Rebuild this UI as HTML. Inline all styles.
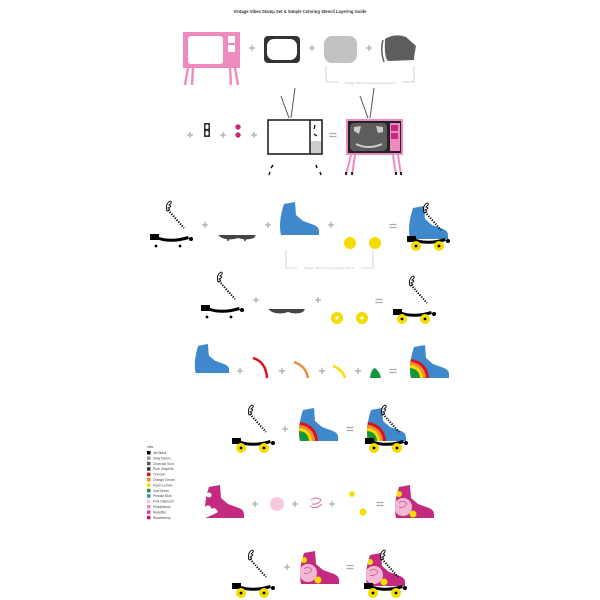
<!DOCTYPE html>
<html><head><style>
html,body{margin:0;padding:0;background:#fff;width:600px;height:600px;overflow:hidden}
svg{display:block}
text{font-family:"Liberation Sans",sans-serif}
</style></head><body>
<svg width="600" height="600" viewBox="0 0 600 600" xmlns="http://www.w3.org/2000/svg">
<defs>
 <path id="boot" d="M6,2 L17,0 L18,13 L25,19 L36,23 Q41,25 41,29 L41,33 L3,33 Q0,20 6,2 Z"/>
 <clipPath id="bc"><use href="#boot"/></clipPath>
 <g id="laces">
  <path d="M18,6 L34,24" stroke="#000" stroke-width="2" stroke-dasharray="1.2 1.4" fill="none"/>
  <path d="M17,7 Q15,0 20,-3 Q23,-2 19,1 Q23,2 18,4 Q22,6 17,7" stroke="#000" stroke-width="0.9" fill="none"/>
 </g>
 <g id="frame">
  <rect x="0" y="30" width="9" height="6" fill="#000"/>
  <path d="M9,33 Q22,37 38,32 L39,35 Q22,40 9,36 Z" fill="#000"/>
  <circle cx="41" cy="35" r="2" fill="#000"/>
 </g>
 <g id="frameW">
  <use href="#frame"/>
  <circle cx="9" cy="40" r="5" fill="#f5dc00"/><circle cx="9" cy="40" r="1.4" fill="#000"/>
  <circle cx="32" cy="40" r="5" fill="#f5dc00"/><circle cx="32" cy="40" r="1.4" fill="#000"/>
 </g>
 <g id="skateBW">
  <use href="#laces"/><use href="#frame"/>
  <circle cx="6" cy="42" r="1.4" fill="#000"/><circle cx="30" cy="42" r="1.4" fill="#000"/>
 </g>
 <g id="rainbow">
  <g clip-path="url(#bc)">
   <circle cx="2" cy="33" r="19" fill="#d8141e"/>
   <circle cx="2" cy="33" r="16" fill="#ee8a3a"/>
   <circle cx="2" cy="33" r="13" fill="#f5dc00"/>
   <circle cx="2" cy="33" r="10" fill="#14963c"/>
  </g>
 </g>
 <g id="blueRainbow"><use href="#boot" fill="#3f88cc"/><use href="#rainbow"/></g>
 <g id="pinkBoot">
  <use href="#boot" fill="#c42a80"/>
  <g clip-path="url(#bc)">
   <circle cx="10" cy="22" r="9" fill="#f2b9d4"/>
   <path d="M6,18 Q10,14 14,19 Q10,24 6,22" stroke="#d9689e" fill="none" stroke-width="1"/>
   <circle cx="6" cy="9" r="3" fill="#f5dc00"/>
   <circle cx="20" cy="29" r="3.5" fill="#f5dc00"/>
  </g>
 </g>
 <g id="plus"><path d="M-3,0 H3 M0,-3 V3" stroke="#aaa" stroke-width="1.2"/></g>
 <g id="eq"><path d="M-3.5,-1.5 H3.5 M-3.5,1.5 H3.5" stroke="#aaa" stroke-width="1.2"/></g>
</defs>

<text x="300" y="13" font-size="4.2" font-weight="bold" text-anchor="middle" fill="#333">Vintage Vibes Stamp Set &amp; Simple Coloring Stencil Layering Guide</text>

<!-- Row 1 -->
<g transform="translate(183,32)">
 <rect x="0" y="0" width="57" height="36" fill="#ee8ac0"/>
 <rect x="5" y="4" width="35" height="28" rx="3" fill="#fff"/>
 <rect x="45" y="4" width="7" height="7" fill="#fff"/>
 <rect x="45" y="13" width="7" height="7" fill="#fff"/>
 <g transform="translate(0,36)"><path d="M5,0 L2,17 M10,0 L9,17 M47,0 L48,17 M52,0 L55,17" stroke="#ee8ac0" stroke-width="2.4"/></g>
</g>
<use href="#plus" x="252" y="48"/>
<rect x="264" y="36" width="36" height="27" rx="4" fill="#333"/>
<rect x="267" y="39" width="30" height="21" rx="7" fill="#fff"/>
<use href="#plus" x="312" y="48"/>
<rect x="324" y="36" width="33" height="27" rx="8" fill="#c3c1c1"/>
<use href="#plus" x="369" y="48"/>
<path d="M385,39 Q395,33 406,37 L416,46 Q414,56 414,60 L388,61 Q384,58 385,39 Z" fill="#5f5c5c"/>
<path d="M383,40 Q380,50 384,62" stroke="#5f5c5c" stroke-width="1.5" fill="none"/>
<path d="M326,66 V82 H414 V66" stroke="#ccc" stroke-width="0.8" fill="none"/>
<rect x="338" y="80" width="64" height="5" fill="#fff"/>
<text x="370" y="84" font-size="3" text-anchor="middle" fill="#bbb">Vintage Vibes Simple Coloring Stencil</text>

<!-- Row 2 -->
<use href="#plus" x="190" y="135"/>
<rect x="204" y="123" width="6" height="14" fill="#333"/>
<rect x="205.5" y="124.5" width="3" height="4.5" rx="1.2" fill="#fff"/>
<rect x="205.5" y="131" width="3" height="4.5" rx="1.2" fill="#fff"/>
<use href="#plus" x="223" y="135"/>
<circle cx="238" cy="127" r="2.7" fill="#c42a80"/>
<circle cx="238" cy="135" r="2.7" fill="#c42a80"/>
<use href="#plus" x="254" y="135"/>
<path d="M289,118 L281,96 M291,118 L295,88" stroke="#555" stroke-width="1"/>
<rect x="268" y="120" width="54" height="34" fill="#fff" stroke="#222" stroke-width="1.6"/>
<line x1="310" y1="120" x2="310" y2="154" stroke="#222" stroke-width="1.6"/>
<path d="M315,125 L314,129 M314,134 L317,136" stroke="#000" stroke-width="1.2"/>
<path d="M312,141 V153 M314,141 V153 M316,141 V153 M318,141 V153 M320,141 V153" stroke="#999" stroke-width="1"/>
<path d="M273,165 L271,168 M270,172 L269,175 M316,165 L317,168 M320,172 L321,175" stroke="#000" stroke-width="1.4"/>
<use href="#eq" x="333" y="135"/>
<path d="M368,118 L360,96 M370,118 L374,88" stroke="#555" stroke-width="1"/>
<rect x="346" y="119" width="57" height="36" fill="#ee8ac0"/>
<rect x="348" y="121" width="53" height="32" fill="#222"/>
<rect x="350" y="123" width="37" height="28" rx="4" fill="#5f5c5c"/>
<path d="M354,127 L361,126 L359,134 L354,131Z M376,126 L383,127 L383,132 L378,133Z" fill="#ccc"/>
<path d="M356,144 Q368,150 382,144" stroke="#ccc" stroke-width="2" fill="none"/>
<rect x="390" y="123" width="10" height="28" fill="#ee8ac0"/>
<rect x="391" y="125" width="7" height="6" fill="#c42a80"/>
<rect x="391" y="133" width="7" height="6" fill="#c42a80"/>
<path d="M351,155 L346,175 M355,155 L352,175 M393,155 L396,175 M398,155 L401,175" stroke="#ee8ac0" stroke-width="2"/>
<path d="M346,172 V175 M352,172 V175 M396,172 V175 M401,172 V175" stroke="#000" stroke-width="1.6"/>

<!-- Row 3 -->
<use href="#skateBW" x="150" y="204"/>
<use href="#plus" x="205" y="225"/>
<path d="M218,235 H256 L254,238 Q246,241 238,238 Q230,241 222,238 Z" fill="#444"/>
<circle cx="228" cy="240" r="1" fill="#444"/><circle cx="245" cy="240" r="1" fill="#444"/>
<use href="#plus" x="268" y="225"/>
<g transform="translate(278,202)"><use href="#boot" fill="#3f88cc"/></g>
<use href="#plus" x="331" y="225"/>
<circle cx="350" cy="243" r="6" fill="#f5dc00"/>
<circle cx="375" cy="243" r="6" fill="#f5dc00"/>
<use href="#eq" x="393" y="226"/>
<g transform="translate(407,206)"><use href="#boot" fill="#3f88cc"/><use href="#laces"/><use href="#frameW"/></g>
<path d="M286,250 V268 H373 V250" stroke="#ccc" stroke-width="0.8" fill="none"/>
<rect x="297" y="265" width="64" height="5" fill="#fff"/>
<text x="329" y="269" font-size="3" text-anchor="middle" fill="#bbb">Vintage Vibes Simple Coloring Stencil</text>

<!-- Row 4 -->
<use href="#skateBW" x="201" y="275"/>
<use href="#plus" x="256" y="300"/>
<path d="M268,309 H305 L303,312 Q296,315 288,312 Q280,315 272,312 Z" fill="#444"/>
<use href="#plus" x="318" y="300"/>
<circle cx="337" cy="318" r="6" fill="#f5dc00"/><circle cx="337" cy="318" r="1.6" fill="#fff"/>
<circle cx="362" cy="318" r="6" fill="#f5dc00"/><circle cx="362" cy="318" r="1.6" fill="#fff"/>
<use href="#eq" x="379" y="301"/>
<g transform="translate(393,279)"><use href="#laces"/><use href="#frameW"/></g>

<!-- Row 5 -->
<g transform="translate(193,344)"><use href="#boot" fill="#3f88cc" transform="scale(0.88)"/></g>
<use href="#plus" x="240" y="371"/>
<path d="M253,358 Q266,362 267,378" stroke="#d8141e" stroke-width="2.5" fill="none"/>
<use href="#plus" x="282" y="371"/>
<path d="M294,362 Q306,366 308,378" stroke="#ee8a3a" stroke-width="2.5" fill="none"/>
<use href="#plus" x="322" y="371"/>
<path d="M333,366 Q343,370 345,378" stroke="#f5dc00" stroke-width="2.5" fill="none"/>
<use href="#plus" x="358" y="371"/>
<path d="M370,378 Q371,369 375,368 Q380,372 381,378 Z" fill="#14963c"/>
<use href="#eq" x="393" y="371"/>
<g transform="translate(408,345)"><use href="#blueRainbow"/></g>

<!-- Row 6 -->
<g transform="translate(232,408)"><use href="#laces"/><use href="#frameW"/></g>
<use href="#plus" x="285" y="429"/>
<g transform="translate(297,408)"><use href="#blueRainbow"/></g>
<use href="#eq" x="350" y="429"/>
<g transform="translate(365,408)"><use href="#blueRainbow"/><use href="#laces"/><use href="#frameW"/></g>

<!-- Legend -->
<g font-size="3.3" fill="#444">
<text x="147" y="448">Inks:</text>
<g transform="translate(147,451)">
 <rect y="0" width="3.5" height="3.5" fill="#000"/><text x="6" y="3">Jet Black</text>
 <rect y="5.4" width="3.5" height="3.5" fill="#999"/><text x="6" y="8.4">Gray Denim</text>
 <rect y="10.8" width="3.5" height="3.5" fill="#555"/><text x="6" y="13.8">Charcoal Soot</text>
 <rect y="16.2" width="3.5" height="3.5" fill="#333"/><text x="6" y="19.2">Pure Graphite</text>
 <rect y="21.6" width="3.5" height="3.5" fill="#d8141e"/><text x="6" y="24.6">Crimson</text>
 <rect y="27" width="3.5" height="3.5" fill="#ee8a3a"/><text x="6" y="30">Orange Cream</text>
 <rect y="32.4" width="3.5" height="3.5" fill="#f5dc00"/><text x="6" y="35.4">Fresh Lemon</text>
 <rect y="37.8" width="3.5" height="3.5" fill="#14963c"/><text x="6" y="40.8">Just Green</text>
 <rect y="43.2" width="3.5" height="3.5" fill="#3f88cc"/><text x="6" y="46.2">Persian Blue</text>
 <rect y="48.6" width="3.5" height="3.5" fill="#f6c8dd"/><text x="6" y="51.6">Pink Diamond</text>
 <rect y="54" width="3.5" height="3.5" fill="#ee8ac0"/><text x="6" y="57">Pinkalicious</text>
 <rect y="59.4" width="3.5" height="3.5" fill="#d9428f"/><text x="6" y="62.4">Rubellite</text>
 <rect y="64.8" width="3.5" height="3.5" fill="#b51f6e"/><text x="6" y="67.8">Razzleberry</text>
</g>
</g>

<!-- Row 7 -->
<g transform="translate(203,485)">
 <use href="#boot" fill="#c42a80"/>
 <path d="M2,22 Q6,18 9,24 Q12,21 15,27 Q10,30 2,33Z" fill="#fff"/>
 <circle cx="6" cy="10" r="2.5" fill="#fff"/>
</g>
<use href="#plus" x="255" y="504"/>
<circle cx="277" cy="504" r="7" fill="#f6c8dd"/>
<use href="#plus" x="295" y="504"/>
<path d="M311,500 Q316,496 321,500 Q318,505 312,504 M310,506 Q316,510 322,504" stroke="#d9689e" stroke-width="1" fill="none"/>
<use href="#plus" x="332" y="504"/>
<circle cx="352" cy="494" r="2.8" fill="#f5dc00"/>
<circle cx="363" cy="512" r="3.5" fill="#f5dc00"/>
<use href="#eq" x="380" y="504"/>
<g transform="translate(393,485)"><use href="#pinkBoot"/></g>

<!-- Row 8 -->
<g transform="translate(232,553)"><use href="#laces"/><use href="#frameW"/></g>
<use href="#plus" x="287" y="567"/>
<g transform="translate(298,551)"><use href="#pinkBoot"/></g>
<use href="#eq" x="350" y="567"/>
<g transform="translate(364,553)"><use href="#pinkBoot"/><use href="#laces"/><use href="#frameW"/></g>
</svg>
</body></html>
